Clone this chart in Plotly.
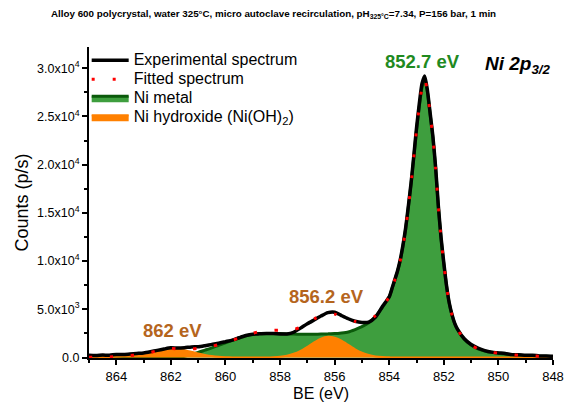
import plotly.graph_objects as go

# Binding energy grid (eV)
be = [865.0, 864.75, 864.5, 864.25, 864.0, 863.75, 863.5, 863.25, 863.0, 862.75,
      862.5, 862.25, 862.0, 861.75, 861.5, 861.25, 861.0, 860.75, 860.5, 860.25,
      860.0, 859.75, 859.5, 859.25, 859.0, 858.75, 858.5, 858.25, 858.0, 857.75,
      857.5, 857.25, 857.0, 856.75, 856.5, 856.25, 856.0, 855.75, 855.5, 855.25,
      855.0, 854.75, 854.5, 854.25, 854.0,
      853.9, 853.8, 853.7, 853.6, 853.5, 853.4, 853.3, 853.2, 853.1, 853.0,
      852.9, 852.8, 852.7, 852.6, 852.5, 852.4, 852.3, 852.2, 852.1, 852.0,
      851.9, 851.8, 851.7, 851.6, 851.5,
      851.25, 851.0, 850.75, 850.5, 850.25, 850.0, 849.75, 849.5, 849.25, 849.0,
      848.75, 848.5, 848.25, 848.0]

experimental = [230, 210, 250, 240, 320, 300, 360, 420, 480, 600,
                740, 880, 1000, 980, 1020, 1100, 1120, 1230, 1360, 1480,
                1640, 1800, 2050, 2280, 2420, 2460, 2500, 2480, 2450, 2430,
                2620, 3050, 3500, 3900, 4300, 4650, 4700, 4350, 4020, 3760,
                3640, 3680, 4200, 5300, 6300,
                7150, 8050, 8950, 10100, 11600, 13400, 15700, 18100, 20900, 23800,
                26300, 28400, 29200, 27700, 25300, 22900, 19700, 15700, 12400, 9800,
                7450, 5650, 4450, 3550, 2950,
                1950, 1350, 980, 720, 560, 480, 420, 300, 290, 230,
                240, 170, 160, 120]

fitted = [15, 25, 40, 65, 100, 145, 200, 280, 390, 530,
          690, 850, 940, 890, 880, 900, 940, 1030, 1150, 1345,
          1555, 1784, 2025, 2300, 2520, 2680, 2780, 2820, 2840, 2850,
          2900, 3150, 3550, 4000, 4370, 4560, 4500, 4260, 3950, 3750,
          3700, 3850, 4360, 5240, 6315,
          7100, 8000, 8900, 10000, 11500, 13300, 15600, 18000, 20800, 23600,
          26000, 28000, 28900, 27500, 25200, 22800, 19600, 15600, 12300, 9700,
          7400, 5600, 4400, 3500, 2900,
          1900, 1300, 900, 680, 540, 440, 360, 290, 240, 200,
          170, 140, 120, 100]

ni_metal = [0, 0, 0, 0, 0, 0, 0, 0, 0, 0,
            0, 0, 0, 10, 120, 300, 520, 760, 1000, 1270,
            1520, 1770, 2020, 2250, 2400, 2480, 2500, 2500, 2480, 2450,
            2430, 2420, 2420, 2420, 2430, 2450, 2480, 2550, 2650, 2900,
            3200, 3600, 4250, 5200, 6300,
            7100, 8000, 8900, 10000, 11500, 13300, 15600, 18000, 20800, 23600,
            26000, 28000, 28900, 27500, 25200, 22800, 19600, 15600, 12300, 9700,
            7400, 5600, 4400, 3500, 2900,
            1900, 1300, 900, 680, 540, 440, 360, 290, 240, 200,
            170, 140, 120, 100]

ni_hydroxide = [15, 25, 40, 65, 100, 145, 200, 280, 390, 530,
                690, 850, 940, 880, 760, 600, 420, 270, 150, 75,
                35, 14, 5, 0, 0, 0, 5, 30, 79, 185,
                384, 698, 1119, 1579, 1961, 2145, 2064, 1748, 1304, 856,
                495, 252, 113, 44, 15,
                8, 4, 0, 0, 0, 0, 0, 0, 0, 0,
                0, 0, 0, 0, 0, 0, 0, 0, 0, 0,
                0, 0, 0, 0, 0,
                0, 0, 0, 0, 0, 0, 0, 0, 0, 0,
                0, 0, 0, 0]

ytick_vals = [0, 5000, 10000, 15000, 20000, 25000, 30000]
ytick_text = ["0.0", "5.0x10<sup>3</sup>", "1.0x10<sup>4</sup>", "1.5x10<sup>4</sup>",
              "2.0x10<sup>4</sup>", "2.5x10<sup>4</sup>", "3.0x10<sup>4</sup>"]
xtick_vals = [864, 862, 860, 858, 856, 854, 852, 850, 848]

FONT = "Arial, Liberation Sans, sans-serif"


def leg(label):
    return '<span style="font-size:16px">' + label + '</span>'


fig = go.Figure()
fig.add_trace(go.Scatter(
    x=be, y=ni_metal, name=leg("Ni metal"), mode="lines", fill="tozeroy",
    fillcolor="#3e9e3e", line=dict(color="#0b5a0b", width=3, shape="spline", smoothing=0.6),
    legendrank=3))
fig.add_trace(go.Scatter(
    x=be, y=ni_hydroxide, name=leg("Ni hydroxide (Ni(OH)<sub>2</sub>)"), mode="lines", fill="tozeroy",
    fillcolor="#ff8000", line=dict(color="#ff8000", width=2, shape="spline", smoothing=0.6),
    legendrank=4))
fig.add_trace(go.Scatter(
    x=be, y=experimental, name=leg("Experimental spectrum"), mode="lines",
    line=dict(color="black", width=3.5, shape="spline", smoothing=0.6),
    legendrank=1))
fig.add_trace(go.Scatter(
    x=be, y=fitted, name=leg("Fitted spectrum"), mode="lines",
    line=dict(color="#ff0000", width=3, dash="3px,18px", shape="spline", smoothing=0.6),
    legendrank=2))

fig.update_layout(
    width=568, height=404,
    margin=dict(l=79, r=13, t=39, b=53),
    paper_bgcolor="white", plot_bgcolor="white",
    font=dict(family=FONT, color="black"),
    showlegend=True,
    legend=dict(x=-0.005, y=1.004, xanchor="left", yanchor="top",
                bgcolor="rgba(0,0,0,0)", font=dict(size=12.3, family=FONT),
                itemwidth=37, tracegroupgap=0),
    xaxis=dict(range=[865, 848], tickvals=xtick_vals, ticks="outside", ticklen=5,
               tickwidth=1.5, tickcolor="black", showline=True, linecolor="black",
               linewidth=2, showgrid=False, zeroline=False,
               tickfont=dict(size=13), title=dict(text="BE (eV)", font=dict(size=16), standoff=5),
               minor=dict(dtick=1, ticks="outside", ticklen=3, tickcolor="black", tickwidth=1.5)),
    yaxis=dict(range=[-50, 32200], tickvals=ytick_vals, ticktext=ytick_text,
               ticks="outside", ticklen=5, tickwidth=1.5, tickcolor="black",
               showline=True, linecolor="black", linewidth=2, showgrid=False,
               zeroline=False, tickfont=dict(size=12.5),
               title=dict(text="Counts (p/s)", font=dict(size=18), standoff=4),
               minor=dict(dtick=2500, ticks="outside", ticklen=3, tickcolor="black", tickwidth=1.5)),
)

fig.add_annotation(text="<b>Alloy 600 polycrystal, water 325°C, micro autoclave recirculation, pH<sub>325°C</sub>=7.34, P=156 bar, 1 min</b>",
                   xref="paper", yref="paper", x=0.397, y=1.106, xanchor="center", yanchor="middle",
                   showarrow=False, font=dict(size=9.8, family=FONT))
fig.add_annotation(text="<b>852.7 eV</b>", x=852.77, y=30700, xref="x", yref="y",
                   showarrow=False, font=dict(size=18.5, color="#1f8a1f", family=FONT))
fig.add_annotation(text="<b><i>Ni 2p<sub>3/2</sub></i></b>", x=849.3, y=30300, xref="x", yref="y",
                   showarrow=False, font=dict(size=19, color="black", family=FONT))
fig.add_annotation(text="<b>856.2 eV</b>", x=856.3, y=6350, xref="x", yref="y",
                   showarrow=False, font=dict(size=18.5, color="#b5651d", family=FONT))
fig.add_annotation(text="<b>862 eV</b>", x=861.93, y=2800, xref="x", yref="y",
                   showarrow=False, font=dict(size=18.5, color="#b5651d", family=FONT))

fig.write_html("out.html")
